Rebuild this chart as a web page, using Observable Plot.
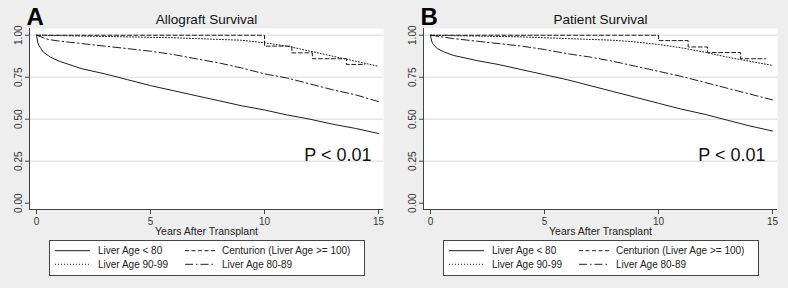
<!DOCTYPE html>
<html><head><meta charset="utf-8">
<script src="https://cdn.jsdelivr.net/npm/d3@7"></script>
<script src="https://cdn.jsdelivr.net/npm/@observablehq/plot@0.6"></script>
<style>
html,body{margin:0;padding:0;background:#eeeeee;}
#chart{display:flex;width:788px;height:288px;background:#eeeeee;}
#chart svg{display:block;}
</style></head><body><div id="chart"></div>
<script>
// ---- data ----
const yearTicks = [0, 5, 10, 15];
const survivalTicks = [0, 0.25, 0.5, 0.75, 1];
const xAxisLabel = "Years After Transplant";
const panelLetters = ["A", "B"];
const panelTitles = ["Allograft Survival", "Patient Survival"];
const pValues = ["P < 0.01", "P < 0.01"];
const seriesNames = ["Liver Age < 80", "Centurion (Liver Age >= 100)", "Liver Age 90-99", "Liver Age 80-89"];

// Allograft survival [years, survival]
const graftUnder80 = [[0,1],[0.05,0.96],[0.1,0.94],[0.3,0.9],[0.6,0.87],[1,0.845],[2,0.8],[3,0.77],[4,0.735],[5,0.7],[6,0.67],[7,0.64],[8,0.61],[9,0.58],[10,0.555],[11,0.525],[12,0.5],[13,0.47],[14,0.445],[15,0.415]];
const graftCenturion = [[0,1],[10,0.935],[11.2,0.895],[12.1,0.86],[13.6,0.826],[14.4,0.826]];
const graft90to99 = [[0,1],[2,0.995],[4,0.99],[6,0.985],[8,0.975],[9,0.97],[10,0.955],[11,0.935],[12,0.905],[13,0.875],[14,0.845],[15,0.815]];
const graft80to89 = [[0,1],[0.5,0.975],[1,0.965],[2,0.95],[3,0.935],[4,0.92],[5,0.905],[6,0.885],[7,0.86],[8,0.835],[9,0.805],[10,0.77],[11,0.745],[12,0.71],[13,0.675],[14,0.645],[15,0.605]];

// Patient survival [years, survival]
const patientUnder80 = [[0,1],[0.05,0.965],[0.1,0.95],[0.3,0.92],[0.6,0.9],[1,0.88],[2,0.85],[3,0.825],[4,0.795],[5,0.765],[6,0.735],[7,0.7],[8,0.665],[9,0.63],[10,0.595],[11,0.56],[12,0.53],[13,0.495],[14,0.46],[15,0.43]];
const patientCenturion = [[0,1],[10,0.968],[11.3,0.93],[12.15,0.897],[13.6,0.86],[14.7,0.86]];
const patient90to99 = [[0,1],[2,0.995],[4,0.99],[6,0.98],[8,0.97],[9,0.96],[10,0.945],[11,0.925],[12,0.9],[13,0.87],[14,0.845],[15,0.82]];
const patient80to89 = [[0,1],[1,0.98],[2,0.965],[3,0.95],[4,0.935],[5,0.915],[6,0.89],[7,0.87],[8,0.845],[9,0.815],[10,0.785],[11,0.755],[12,0.72],[13,0.685],[14,0.65],[15,0.615]];

const panelSeries = [
  [graftUnder80, graftCenturion, graft90to99, graft80to89],
  [patientUnder80, patientCenturion, patient90to99, patient80to89]
];

// ---- styles ----
const dashes = [null, "4,2.5", "1,2", "8,3,1.5,3"];
const curves = ["linear", "step-after", "linear", "linear"];
const ink = "#1e1e1e";
const axisInk = "#444";
const font = "'Liberation Sans', Arial, sans-serif";

function drawPanel(i) {
  const xDomain = [-0.307, 15.22];
  const yDomain = [-0.0375, 1.04];
  const lines = panelSeries[i].map((data, k) =>
    Plot.line(data, {x: d => d[0], y: d => d[1], stroke: ink, strokeWidth: 1,
      strokeDasharray: dashes[k] ?? undefined, curve: curves[k]}));
  const svg = Plot.plot({
    width: 394, height: 288,
    marginLeft: 29, marginRight: 11, marginTop: 28, marginBottom: 79,
    style: {background: "transparent", fontFamily: font, fontSize: "10px", color: "#333", overflow: "visible"},
    x: {domain: xDomain},
    y: {domain: yDomain},
    marks: [
      Plot.frame({fill: "white", stroke: "none"}),
      Plot.ruleY(survivalTicks.filter(d => d > 0), {stroke: "#e6e6e6", strokeWidth: 1.5}),
      ...lines,
      Plot.ruleX([xDomain[0]], {stroke: axisInk}),
      Plot.ruleY([yDomain[0]], {stroke: axisInk}),
      Plot.axisY(survivalTicks, {tickFormat: d3.format(".2f"), tickRotate: -90, tickSize: 4, tickPadding: 4, label: null, stroke: axisInk}),
      Plot.axisX(yearTicks, {tickSize: 5, tickPadding: 3, label: null, stroke: axisInk}),
      Plot.text([xAxisLabel], {text: d => d, frameAnchor: "bottom", lineAnchor: "bottom", dy: 25, fontSize: 10.5, fill: "#222"}),
      Plot.text([panelTitles[i]], {text: d => d, frameAnchor: "top", lineAnchor: "bottom", dy: -4.5, fontSize: 13.5, fill: "#111"}),
      Plot.text([panelLetters[i]], {text: d => d, frameAnchor: "top-left", textAnchor: "start", lineAnchor: "bottom", dx: -3, dy: -4, fontSize: 24, fontWeight: "bold", fill: "#000"}),
      Plot.text([pValues[i]], {text: d => d, frameAnchor: "bottom-right", textAnchor: "end", lineAnchor: "bottom", dx: -12, dy: -49, fontSize: 18, fill: "#111"})
    ]
  });
  // legend
  const g = d3.select(svg).append("g").attr("font-family", font).attr("font-size", 10)
    .attr("fill", "#222").attr("text-anchor", "start");
  g.append("rect").attr("x", 49.5).attr("y", 240.5).attr("width", 315).attr("height", 35)
    .attr("fill", "white").attr("stroke", axisInk).attr("stroke-width", 1);
  const colSample = [[55, 90], [185, 215]];
  const colLabel = [98, 222];
  const rowY = [250.7, 264.3];
  seriesNames.forEach((name, k) => {
    const col = k % 2, row = Math.floor(k / 2);
    g.append("line").attr("x1", colSample[col][0]).attr("x2", colSample[col][1])
      .attr("y1", rowY[row]).attr("y2", rowY[row]).attr("stroke", ink).attr("stroke-width", 1)
      .attr("stroke-dasharray", dashes[k]);
    g.append("text").attr("x", colLabel[col]).attr("y", rowY[row]).attr("dy", "0.35em")
      .attr("text-anchor", "start").text(name);
  });
  return svg;
}

const root = document.getElementById("chart");
root.appendChild(drawPanel(0));
root.appendChild(drawPanel(1));
</script></body></html>
